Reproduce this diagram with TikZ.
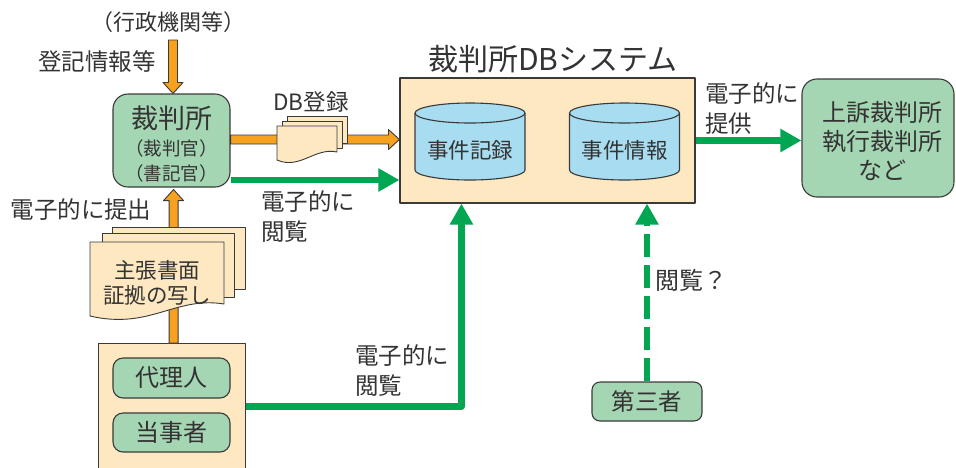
\documentclass[tikz,border=0pt]{standalone}
\usepackage{fontspec}
\setmainfont{Noto Sans CJK JP}
\usetikzlibrary{arrows.meta,calc}
\definecolor{orng}{HTML}{F6A21E}
\definecolor{edge}{HTML}{3A3A3A}
\definecolor{beige}{HTML}{FDE8C2}
\definecolor{boxg}{HTML}{A5D6B4}
\definecolor{grn}{HTML}{00A651}
\definecolor{cylb}{HTML}{A8DCF0}
\definecolor{txt}{HTML}{333333}
\newcommand\dbcyl[1]{%
  \draw[box, fill=cylb] (#1-55,113) -- (#1-55,170)
    arc[start angle=180,end angle=360,x radius=55pt,y radius=10pt]
    -- (#1+55,113)
    arc[start angle=0,end angle=180,x radius=55pt,y radius=10pt] -- cycle;
  \draw[box] (#1-55,113) arc[start angle=180,end angle=360,x radius=55pt,y radius=10pt];
}
\begin{document}
\begin{tikzpicture}[x=1pt,y=-1pt, line join=round,
  every node/.append style={text=txt, inner sep=0pt},
  box/.style={draw=edge, line width=1.1pt},
  gbox/.style={box, fill=boxg, rounded corners=10pt},
  bbox/.style={box, fill=beige},
  sheet/.style={draw=edge, line width=0.9pt, fill=beige},
  oarrow/.style={draw=edge, line width=0.9pt, fill=orng},
  garrow/.style={draw=grn, line width=6.5pt, -{Triangle[length=21pt,width=22pt]}},
  lbl/.style={font=\fontsize{23.5}{30}\selectfont, align=left},
]
\useasboundingbox (0,0) rectangle (956,467);
\clip (0,0) rectangle (956,467);

% --- nodes
\node[font=\fontsize{22}{25}\selectfont] (gyosei) at (168,22) {（行政機関等）};
\node[lbl] (toki) at (97,62) {登記情報等};
\coordinate (gsrc) at (173,40);

\node[gbox, rounded corners=15pt, minimum width=117pt, minimum height=93pt] (court) at (171.5,140.5) {};
\node[font=\fontsize{27}{30}\selectfont] (courtt1) at (171.5,118) {裁判所};
\node[font=\fontsize{18.5}{20}\selectfont] (courtt2) at (171.5,148) {（裁判官）};
\node[font=\fontsize{18.5}{20}\selectfont] (courtt3) at (171.5,173) {（書記官）};

\node[bbox, minimum width=295pt, minimum height=125pt] (sys) at (547.5,140.5) {};
\node[font=\fontsize{30}{36}\selectfont] (systitle) at (553,59) {裁判所DBシステム};
\dbcyl{470}
\dbcyl{624.5}
\node[font=\fontsize{21.5}{24}\selectfont] (rec) at (470,150) {事件記録};
\node[font=\fontsize{21.5}{24}\selectfont] (info) at (624.5,150) {事件情報};

\node[gbox, rounded corners=15pt, minimum width=152pt, minimum height=118pt] (appeal) at (878,138) {};
\node[align=center, font=\fontsize{24}{29}\selectfont] (appealt) at (882,141) {上訴裁判所\\執行裁判所\\など};
\node[lbl, anchor=west] (teikyo) at (705,109) {\fontsize{23.5}{32}\selectfont 電子的に\\提供};

\node[lbl] (teishutsu) at (81,210) {電子的に提出};
\node[lbl, anchor=west] (etsuran1) at (261,217) {電子的に\\閲覧};
\node[lbl, anchor=west] (etsuran2) at (355,371) {\fontsize{23.5}{28}\selectfont 電子的に\\閲覧};
\node[lbl] (dbreg) at (311,102) {\fontsize{22.5}{25}\selectfont DB登録};

\node[bbox, minimum width=147pt, minimum height=140pt, anchor=north west] (party) at (98,343) {};
\node[gbox, minimum width=117pt, minimum height=40pt, font=\fontsize{24}{26}\selectfont] (dairi) at (171.5,378) {代理人};
\node[gbox, minimum width=117pt, minimum height=39pt, font=\fontsize{24}{26}\selectfont] (toji) at (171.5,432.5) {当事者};
\node[gbox, rounded corners=8pt, minimum width=110pt, minimum height=39pt, font=\fontsize{23.5}{26}\selectfont] (third) at (647,401.5) {第三者};
\node[lbl, anchor=west] (hatena) at (655,280) {\fontsize{24}{26}\selectfont 閲覧？};

% --- orange arrows
\coordinate (gtip) at ($(court.north)+(1.5,0)$);
\draw[oarrow] let \p1=(gsrc), \p2=(gtip) in
  (\x1-4.5pt,\y1) -- (\x1-4.5pt,\y2+11pt) -- (\x1-10pt,\y2+11pt) -- (\x1,\y2)
  -- (\x1+10pt,\y2+11pt) -- (\x1+4.5pt,\y2+11pt) -- (\x1+4.5pt,\y1) -- cycle;

\coordinate (oa1) at ($(court.east)+(0,-1)$);
\coordinate (oa2) at (oa1 -| sys.west);
\draw[oarrow] let \p1=(oa1), \p2=(oa2) in
  (\x1,\y1+4.5pt) -- (\x2-11pt,\y1+4.5pt) -- (\x2-11pt,\y1+10pt) -- (\x2,\y1)
  -- (\x2-11pt,\y1-10pt) -- (\x2-11pt,\y1-4.5pt) -- (\x1,\y1-4.5pt) -- cycle;

\coordinate (ob1) at ($(party.north)+(1.5,0)$);
\coordinate (ob2) at ($(court.south)+(1.5,2)$);
\draw[oarrow] let \p1=(ob1), \p2=(ob2) in
  (\x1-4.5pt,\y1) -- (\x1-4.5pt,\y2-11pt) -- (\x1-10pt,\y2-11pt) -- (\x1,\y2)
  -- (\x1+10pt,\y2-11pt) -- (\x1+4.5pt,\y2-11pt) -- (\x1+4.5pt,\y1) -- cycle;

% --- document stacks
\draw[sheet] (287,116) rectangle (347,143);
\draw[sheet] (282,121) rectangle (342,148);
\draw[sheet] (277,126) -- (337,126) -- (337,152) .. controls (315,147) and (300,170) .. (277,160) -- cycle;

\draw[sheet] (112,227) rectangle (245,289);
\draw[sheet] (102,233) rectangle (234,297);
\draw[sheet] (90,242) -- (224,242) -- (224,304) .. controls (175,296) and (150,330) .. (90,316) -- cycle;
\node[font=\fontsize{21.5}{24}\selectfont] (doc1) at (157,270) {主張書面};
\node[font=\fontsize{21.5}{24}\selectfont] (doc2) at (157,295) {証拠の写し};

% --- green arrows
\draw[garrow] ($(court.east)+(0,39.5)$) -- ($(sys.west)+(0,39.5)$);
\draw[garrow] (sys.east) -- (sys.east -| appeal.west);
\draw[garrow] ($(party.east)+(0,-7)$) -| ($(sys.south west)+(62,0)$);
\draw[garrow, dash pattern=on 23pt off 8pt] (third.north) -- (third.north |- sys.south);
\end{tikzpicture}
\end{document}
